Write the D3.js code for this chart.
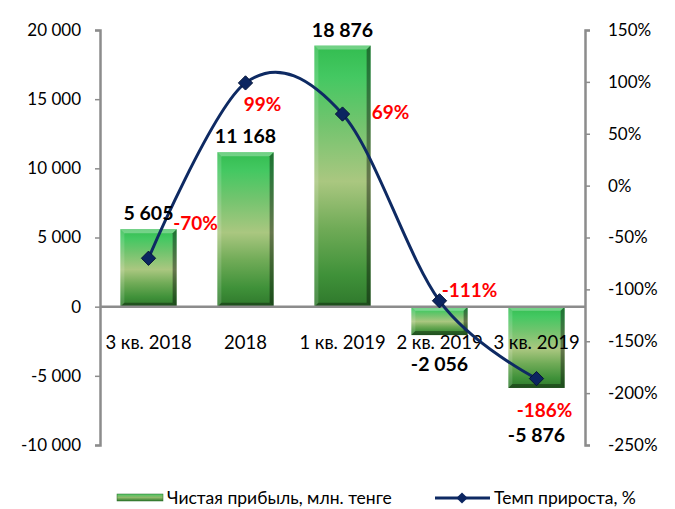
<!DOCTYPE html>
<html><head><meta charset="utf-8">
<script src="https://cdn.jsdelivr.net/npm/d3@7"></script>
<style>body{margin:0;background:#fff} svg{display:block}</style>
</head><body>
<svg id="c" width="675" height="509"></svg>
<script>
const categories = ["3 кв. 2018", "2018", "1 кв. 2019", "2 кв. 2019", "3 кв. 2019"];
const profit = [5605, 11168, 18876, -2056, -5876];
const growth = [-70, 99, 69, -111, -186];
const leftTicks = [-10000, -5000, 0, 5000, 10000, 15000, 20000];
const rightTicks = [-250, -200, -150, -100, -50, 0, 50, 100, 150];
const seriesNames = ["Чистая прибыль, млн. тенге", "Темп прироста, %"];

const FONT = "Lato, 'Noto Sans', sans-serif";
const svg = d3.select("#c");
const loc = d3.formatLocale({decimal: ",", thousands: " ", grouping: [3], currency: ["", ""], minus: "-"});
const fmt = loc.format(",");

const x = d3.scaleBand().domain(categories).range([100, 585]).paddingInner(0.42).paddingOuter(0.21);
const yL = d3.scaleLinear().domain([-10000, 20000]).range([445, 30]);
const yR = d3.scaleLinear().domain([-250, 150]).range([445, 30]);

const defs = svg.append("defs");
const g = defs.append("linearGradient").attr("id", "barG").attr("x1", 0).attr("y1", 0).attr("x2", 0).attr("y2", 1);
[[0, "#33bd50"], [0.12, "#44c862"], [0.3, "#72c46e"], [0.52, "#aac780"], [0.7, "#70ab57"], [0.88, "#3f9139"], [1, "#2f782c"]]
  .forEach(([o, c]) => g.append("stop").attr("offset", o).attr("stop-color", c));
const lg = defs.append("linearGradient").attr("id", "legG").attr("x1", 0).attr("y1", 0).attr("x2", 0).attr("y2", 1);
[[0, "#4cc864"], [0.5, "#8fb86a"], [1, "#2e7a2c"]].forEach(([o, c]) => lg.append("stop").attr("offset", o).attr("stop-color", c));

// bars
const bars = svg.append("g");
profit.forEach((v, i) => {
  const x0 = x(categories[i]), w = x.bandwidth();
  const yT = Math.min(yL(v), yL(0)), yB = Math.max(yL(v), yL(0));
  const h = yB - yT, b = Math.min(4, h / 3);
  const bg = bars.append("g");
  bg.append("rect").attr("x", x0).attr("y", yT).attr("width", w).attr("height", h).attr("fill", "url(#barG)");
  bg.append("path").attr("d", `M${x0},${yT}L${x0 + w},${yT}L${x0 + w - b},${yT + b}L${x0 + b},${yT + b}Z`).attr("fill", "#ffffff").attr("opacity", 0.3);
  bg.append("path").attr("d", `M${x0},${yT}L${x0 + b},${yT + b}L${x0 + b},${yB - b}L${x0},${yB}Z`).attr("fill", "#ffffff").attr("opacity", 0.15);
  bg.append("path").attr("d", `M${x0 + w},${yT}L${x0 + w - b},${yT + b}L${x0 + w - b},${yB - b}L${x0 + w},${yB}Z`).attr("fill", "#000000").attr("opacity", 0.4);
  bg.append("path").attr("d", `M${x0},${yB}L${x0 + b},${yB - b}L${x0 + w - b},${yB - b}L${x0 + w},${yB}Z`).attr("fill", "#000000").attr("opacity", 0.35);
});

// axes
function styleAxis(sel) {
  sel.select(".domain").attr("stroke", "#8c8c8c").attr("stroke-width", 2.5);
  sel.selectAll(".tick line").attr("stroke", "#8c8c8c").attr("stroke-width", 1.5);
  sel.selectAll("text").attr("fill", "#000").style("font-family", FONT).style("font-size", "17px");
}
const axL = svg.append("g").attr("transform", "translate(100,0)")
  .call(d3.axisLeft(yL).tickValues(leftTicks).tickSize(5).tickSizeOuter(5).tickPadding(14).tickFormat(fmt));
styleAxis(axL);
const axR = svg.append("g").attr("transform", "translate(585,0)")
  .call(d3.axisRight(yR).tickValues(rightTicks).tickSize(5).tickSizeOuter(5).tickPadding(18).tickFormat(d => d + "%"));
styleAxis(axR);
svg.append("line").attr("x1", 100).attr("x2", 585).attr("y1", yL(0)).attr("y2", yL(0))
  .attr("stroke", "#8c8c8c").attr("stroke-width", 2.5);

// category labels
svg.append("g").selectAll("text").data(categories).join("text")
  .attr("x", d => x(d) + x.bandwidth() / 2).attr("y", yL(0) + 42)
  .attr("text-anchor", "middle").style("font-family", FONT).style("font-size", "18.5px").attr("fill", "#000")
  .text(d => d);

// line
const pts = growth.map((v, i) => [x(categories[i]) + x.bandwidth() / 2, yR(v)]);
svg.append("path").attr("d", d3.line().curve(d3.curveCatmullRom.alpha(0))(pts))
  .attr("fill", "none").attr("stroke", "#0e2a63").attr("stroke-width", 3);
svg.append("g").selectAll("path").data(pts).join("path")
  .attr("d", d3.symbol().type(d3.symbolDiamond2).size(130)())
  .attr("transform", d => `translate(${d[0]},${d[1]})`)
  .attr("fill", "#0b2560").attr("stroke", "#061538").attr("stroke-width", 1);

// value labels
const negShift = [0, 0, 0, 36, 54];
svg.append("g").selectAll("text").data(profit).join("text")
  .attr("x", (d, i) => x(categories[i]) + x.bandwidth() / 2)
  .attr("y", (d, i) => d >= 0 ? yL(d) - 9 : yL(d) + negShift[i])
  .attr("text-anchor", "middle").style("font-family", FONT).style("font-size", "19.5px").style("font-weight", "bold")
  .attr("fill", "#000").text(d => fmt(d));

const pctOff = [[47, -28], [17, 28], [48, 5], [30, -4], [8, 38]];
svg.append("g").selectAll("text").data(growth).join("text")
  .attr("x", (d, i) => pts[i][0] + pctOff[i][0])
  .attr("y", (d, i) => pts[i][1] + pctOff[i][1])
  .attr("text-anchor", "middle").style("font-family", FONT).style("font-size", "19px").style("font-weight", "bold")
  .attr("fill", "#ff0000").text(d => d + "%");

// legend
const leg = svg.append("g");
leg.append("rect").attr("x", 117).attr("y", 494).attr("width", 46).attr("height", 7).attr("fill", "url(#legG)")
  .attr("stroke", "#2b6a27").attr("stroke-width", 0.5);
leg.append("text").attr("x", 167).attr("y", 504).style("font-family", FONT).style("font-size", "17.5px").attr("fill", "#000").text(seriesNames[0]);
leg.append("line").attr("x1", 435).attr("x2", 490).attr("y1", 498).attr("y2", 498).attr("stroke", "#0e2a63").attr("stroke-width", 3);
leg.append("path").attr("d", d3.symbol().type(d3.symbolDiamond2).size(80)()).attr("transform", "translate(462,498)")
  .attr("fill", "#0b2560");
leg.append("text").attr("x", 494).attr("y", 504).style("font-family", FONT).style("font-size", "17.5px").attr("fill", "#000").text(seriesNames[1]);
</script>
</body></html>
